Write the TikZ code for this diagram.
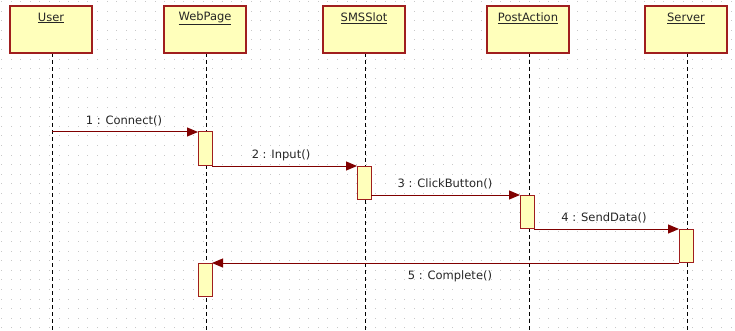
\documentclass[tikz,border=0pt]{standalone}
\usepackage{fontspec}
\setmainfont{DejaVu Sans}
\usetikzlibrary{arrows.meta}
\definecolor{boxfill}{RGB}{255,255,187}
\definecolor{boxline}{RGB}{160,30,30}
\definecolor{msg}{RGB}{128,0,0}
\definecolor{dotc}{RGB}{200,200,200}
\tikzset{
  x=1pt, y=-1pt,
  obj/.style={draw=boxline, line width=1.3pt, fill=boxfill},
  act/.style={draw=boxline, line width=1pt, fill=boxfill},
  life/.style={draw=black, line width=1pt, dash pattern=on 4pt off 3pt},
  call/.style={draw=msg, line width=1pt, -{Triangle[length=11pt,width=9pt]}},
  lbl/.style={font=\fontsize{11.5}{13}\selectfont, text=black!85, inner sep=0pt},
  hdr/.style={font=\fontsize{11.5}{13}\selectfont, text=black!85, inner sep=0pt},
}
\begin{document}
\begin{tikzpicture}
\useasboundingbox (0,0) rectangle (735,331);
\fill[white] (0,0) rectangle (735,331);
% dotted grid
\foreach \i in {0,...,76} {
  \foreach \j in {0,...,34} {
    \fill[dotc] ({1.5+\i*9.6-0.5},{1.5+\j*9.6-0.5}) rectangle ++(1,1);
  }
}
% lifelines
\coordinate (uT) at (52,53);   \coordinate (uB) at (52,331);
\coordinate (wT) at (206,53);  \coordinate (wB) at (206,331);
\coordinate (sT) at (365,53);  \coordinate (sB) at (365,331);
\coordinate (pT) at (529,53);  \coordinate (pB) at (529,331);
\coordinate (vT) at (687,53);  \coordinate (vB) at (687,331);
\draw[life] (uT) -- (uB);
\draw[life] (wT) -- (wB);
\draw[life] (sT) -- (sB);
\draw[life] (pT) -- (pB);
\draw[life] (vT) -- (vB);
% object boxes
\draw[obj] (10,6) rectangle (92,53);
\node[hdr] (user) at (51,18) {\underline{User}};
\draw[obj] (164,6) rectangle (246,53);
\node[hdr] (web) at (205,18) {\underline{WebPage}};
\draw[obj] (323,6) rectangle (405,53);
\node[hdr] (sms) at (364,18) {\underline{SMSSlot}};
\draw[obj] (487,6) rectangle (569,53);
\node[hdr] (post) at (528,18) {\underline{PostAction}};
\draw[obj] (645,6) rectangle (727,53);
\node[hdr] (serv) at (686,18) {\underline{Server}};
% activations
\draw[act] (198,132) rectangle (212,165);
\draw[act] (357,166) rectangle (371,199);
\draw[act] (520,195) rectangle (534,228);
\draw[act] (679,229) rectangle (693,262);
\draw[act] (198,263) rectangle (212,296);
\coordinate (m1s) at (52,132);  \coordinate (m1e) at (198,132);
\coordinate (m2s) at (212,166); \coordinate (m2e) at (357,166);
\coordinate (m3s) at (371,195); \coordinate (m3e) at (520,195);
\coordinate (m4s) at (534,229); \coordinate (m4e) at (679,229);
\coordinate (m5s) at (679,263); \coordinate (m5e) at (212,263);
% messages
\draw[call] (m1s) -- (m1e);
\draw[call] (m2s) -- (m2e);
\draw[call] (m3s) -- (m3e);
\draw[call] (m4s) -- (m4e);
\draw[call] (m5s) -- (m5e);
% labels
\node[lbl] (l1) at (124,121) {1 : Connect()};
\node[lbl] (l2) at (281,155) {2 : Input()};
\node[lbl] (l3) at (445,184) {3 : ClickButton()};
\node[lbl] (l4) at (604,218) {4 : SendData()};
\node[lbl] (l5) at (450,276) {5 : Complete()};
\end{tikzpicture}
\end{document}
